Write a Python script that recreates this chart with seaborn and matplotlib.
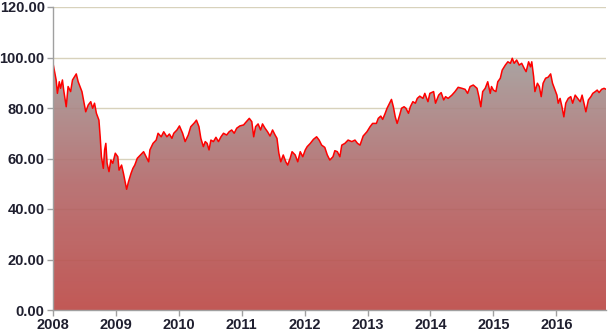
import numpy as np
import pandas as pd
import matplotlib
matplotlib.use("Agg")
import matplotlib.pyplot as plt
import seaborn as sns
from matplotlib.colors import LinearSegmentedColormap

years = [2008.00, 2008.05, 2008.07, 2008.10, 2008.12, 2008.15, 2008.17, 2008.21, 2008.24, 2008.28,
         2008.31, 2008.37, 2008.40, 2008.46, 2008.49, 2008.52, 2008.56, 2008.60, 2008.63, 2008.66,
         2008.69, 2008.73, 2008.75, 2008.77, 2008.80, 2008.82, 2008.84, 2008.86, 2008.89, 2008.92,
         2008.95, 2008.99, 2009.03, 2009.05, 2009.09, 2009.12, 2009.14, 2009.17, 2009.20, 2009.24,
         2009.27, 2009.30, 2009.34, 2009.39, 2009.44, 2009.48, 2009.52, 2009.54, 2009.59, 2009.64,
         2009.67, 2009.72, 2009.76, 2009.81, 2009.85, 2009.89, 2009.92, 2009.97, 2010.01, 2010.06,
         2010.10, 2010.15, 2010.19, 2010.25, 2010.28, 2010.32, 2010.35, 2010.39, 2010.42, 2010.45,
         2010.48, 2010.51, 2010.55, 2010.59, 2010.63, 2010.67, 2010.71, 2010.76, 2010.80, 2010.84,
         2010.88, 2010.92, 2010.97, 2011.03, 2011.06, 2011.12, 2011.16, 2011.19, 2011.22, 2011.26,
         2011.30, 2011.33, 2011.37, 2011.41, 2011.45, 2011.49, 2011.53, 2011.56, 2011.59, 2011.62,
         2011.66, 2011.70, 2011.73, 2011.77, 2011.80, 2011.85, 2011.89, 2011.93, 2011.97, 2012.01,
         2012.04, 2012.09, 2012.14, 2012.19, 2012.23, 2012.27, 2012.32, 2012.36, 2012.40, 2012.45,
         2012.48, 2012.52, 2012.56, 2012.59, 2012.64, 2012.69, 2012.75, 2012.80, 2012.84, 2012.88,
         2012.93, 2012.99, 2013.04, 2013.08, 2013.14, 2013.17, 2013.21, 2013.24, 2013.28, 2013.31,
         2013.35, 2013.38, 2013.41, 2013.44, 2013.47, 2013.51, 2013.54, 2013.58, 2013.61, 2013.65,
         2013.68, 2013.72, 2013.76, 2013.79, 2013.83, 2013.88, 2013.91, 2013.96, 2013.99, 2014.05,
         2014.08, 2014.13, 2014.17, 2014.21, 2014.24, 2014.28, 2014.34, 2014.39, 2014.44, 2014.50,
         2014.55, 2014.59, 2014.63, 2014.68, 2014.74, 2014.77, 2014.80, 2014.83, 2014.87, 2014.91,
         2014.95, 2014.97, 2015.00, 2015.04, 2015.07, 2015.11, 2015.14, 2015.19, 2015.23, 2015.27,
         2015.30, 2015.33, 2015.37, 2015.41, 2015.45, 2015.49, 2015.52, 2015.56, 2015.59, 2015.61,
         2015.64, 2015.66, 2015.70, 2015.73, 2015.76, 2015.79, 2015.83, 2015.87, 2015.91, 2015.94,
         2015.97, 2016.01, 2016.03, 2016.06, 2016.09, 2016.12, 2016.15, 2016.19, 2016.23, 2016.26,
         2016.30, 2016.34, 2016.38, 2016.41, 2016.44, 2016.47, 2016.51, 2016.55, 2016.58, 2016.62,
         2016.65, 2016.68, 2016.72, 2016.76, 2016.79]

values = [97.7, 91.1, 85.8, 90.4, 87.8, 91.1, 87.1, 80.5, 88.5, 86.5,
          91.1, 93.5, 90.4, 86.5, 82.5, 78.5, 81.2, 82.5, 79.9, 81.9,
          77.9, 75.2, 68.6, 60.7, 56.1, 63.4, 66.0, 58.1, 54.8, 59.4,
          58.1, 62.1, 60.7, 55.4, 57.4, 54.1, 51.5, 47.8, 50.8, 54.1,
          56.1, 57.4, 60.1, 61.4, 62.7, 60.7, 58.7, 63.4, 66.0, 67.3,
          70.0, 68.6, 70.6, 68.6, 69.7, 68.0, 70.0, 71.3, 72.9, 70.0,
          66.7, 69.3, 72.6, 74.2, 75.2, 72.6, 68.0, 64.7, 66.7, 66.0,
          63.4, 67.3, 66.7, 68.4, 66.7, 68.6, 70.0, 69.3, 70.6, 71.3,
          70.0, 72.0, 72.9, 73.3, 74.2, 75.9, 74.6, 68.6, 72.6, 73.7,
          71.3, 73.7, 72.0, 70.6, 68.9, 71.3, 69.3, 68.0, 62.1, 58.7,
          61.4, 58.7, 57.4, 60.1, 62.7, 61.4, 58.7, 62.7, 60.7, 63.4,
          64.7, 66.0, 67.6, 68.6, 67.3, 65.3, 64.4, 61.4, 59.4, 60.7,
          63.1, 62.7, 60.7, 65.3, 66.0, 67.3, 66.7, 67.3, 66.0, 65.3,
          68.9, 70.6, 72.6, 73.9, 73.9, 75.9, 76.8, 75.5, 77.9, 79.9,
          81.9, 83.4, 80.5, 76.5, 73.9, 77.2, 79.9, 80.5, 79.9, 77.9,
          80.5, 82.5, 81.9, 83.8, 84.7, 83.8, 85.8, 82.5, 85.8, 86.5,
          81.9, 85.1, 86.1, 83.2, 84.5, 83.8, 85.1, 86.5, 88.2, 87.8,
          87.4, 85.8, 88.5, 89.1, 87.8, 84.5, 80.5, 86.5, 87.8, 90.4,
          85.8, 88.5, 87.1, 86.5, 90.4, 91.8, 95.0, 97.0, 98.3, 97.7,
          99.7, 97.7, 99.0, 97.0, 97.7, 95.7, 94.4, 98.3, 96.3, 98.3,
          92.4, 86.5, 89.8, 88.5, 84.5, 89.8, 91.8, 92.2, 93.5, 89.8,
          87.8, 85.1, 81.9, 83.8, 80.5, 76.5, 81.9, 83.8, 84.5, 81.9,
          85.1, 83.8, 82.5, 85.1, 81.9, 78.5, 83.2, 84.5, 85.8, 86.5,
          87.1, 86.1, 87.4, 87.8, 87.4]

year_ticks = [2008, 2009, 2010, 2011, 2012, 2013, 2014, 2015, 2016]
y_ticks = [0, 20, 40, 60, 80, 100, 120]

df = pd.DataFrame({"year": years, "value": values})

sns.set_theme(style="white")
plt.rcParams["font.family"] = ["Liberation Sans", "DejaVu Sans"]

fig = plt.figure(figsize=(6.08, 3.33), dpi=100)
ax = fig.add_axes([53 / 608, 23 / 333, 553 / 608, 303 / 333])

x0, x1 = min(years), max(years)
ax.set_xlim(x0, x1)
ax.set_ylim(0, 120)

# gridlines (behind the semi-transparent fill)
for yt in y_ticks[1:]:
    ax.axhline(yt, color="#d8d2bc", lw=1.0, zorder=0)

# gradient fill under curve
poly = ax.fill_between(df["year"], df["value"], 0, color="none", lw=0)
cmap = LinearSegmentedColormap.from_list("g", ["#bd4a47", "#b4696a", "#a39c9a"])
grad = np.linspace(0, 1, 256).reshape(-1, 1)
img = ax.imshow(grad, cmap=cmap, aspect="auto", origin="lower",
                extent=[x0, x1, 0, max(values)], alpha=0.92, zorder=1)
img.set_clip_path(poly.get_paths()[0], transform=ax.transData)

sns.lineplot(data=df, x="year", y="value", color="#ff0000", lw=1.1, ax=ax, zorder=3)

ax.set_xticks(year_ticks)
ax.set_xticklabels([str(y) for y in year_ticks])
ax.set_yticks(y_ticks)
ax.set_yticklabels([f"{v:.2f}" for v in y_ticks])
ax.set_xlabel("")
ax.set_ylabel("")

for s in ["top", "right"]:
    ax.spines[s].set_visible(False)
for s in ["left", "bottom"]:
    ax.spines[s].set_color("#a0a0a0")
    ax.spines[s].set_linewidth(1.0)
    ax.spines[s].set_zorder(4)

ax.tick_params(axis="both", which="both", direction="out", length=4, width=1,
               color="#a0a0a0", labelsize=10.5, labelcolor="#1f1f2f", pad=2,
               left=True, bottom=True)
for lbl in ax.get_xticklabels() + ax.get_yticklabels():
    lbl.set_fontweight("bold")

fig.savefig("out.png", dpi=100)
